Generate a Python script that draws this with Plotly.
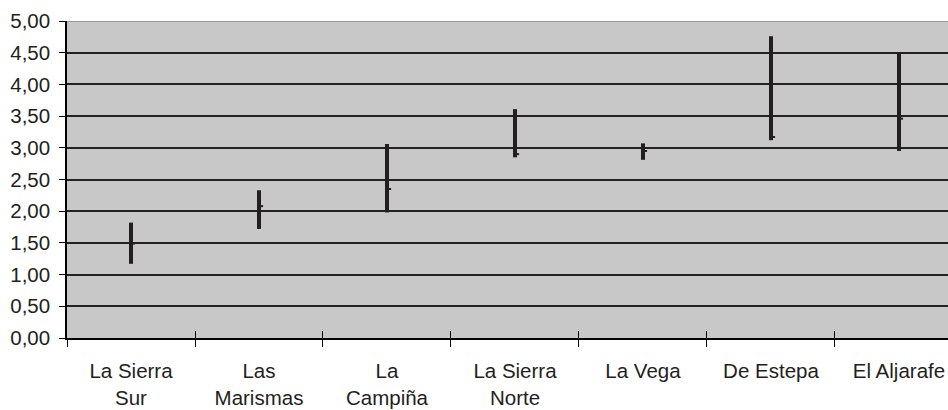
import plotly.graph_objects as go

# Price range per comarca: low, high and closing value
comarcas = ["La Sierra<br>Sur", "Las<br>Marismas", "La<br>Campiña", "La Sierra<br>Norte",
            "La Vega", "De Estepa", "El Aljarafe"]
low = [1.17, 1.72, 1.98, 2.85, 2.81, 3.12, 2.95]
high = [1.82, 2.33, 3.06, 3.61, 3.07, 4.76, 4.51]
close = [1.49, 2.08, 2.35, 2.90, 2.95, 3.17, 3.46]

y_ticks = [i * 0.5 for i in range(11)]

n = len(comarcas)
centers = list(range(n))
bounds = [i - 0.5 for i in range(n + 1)]
dark = "#231f20"
close_off = 0.032  # length of the close tick, in category units

# vertical high-low segments
hx, hy = [], []
for i in centers:
    hx += [i, i, None]
    hy += [low[i], high[i], None]

# small close ticks to the right of each segment
cx, cy = [], []
for i in centers:
    cx += [i, i + close_off, None]
    cy += [close[i], close[i], None]

fig = go.Figure()
fig.add_trace(go.Scatter(x=hx, y=hy, mode="lines", line=dict(color=dark, width=4),
                         hoverinfo="skip", showlegend=False))
fig.add_trace(go.Scatter(x=cx, y=cy, mode="lines", line=dict(color=dark, width=2),
                         hoverinfo="skip", showlegend=False))
fig.add_trace(go.Scatter(x=[], y=[], xaxis="x2", showlegend=False))

x_range = [-0.5, 6.383]

fig.update_layout(
    width=948, height=410,
    margin=dict(l=67, r=0, t=21, b=72),
    paper_bgcolor="white",
    plot_bgcolor="#c8c8c8",
    separators=",.",
    font=dict(family="Liberation Sans, Arial, sans-serif", size=20.5, color=dark),
    xaxis=dict(
        range=x_range, tickmode="array", tickvals=centers, ticktext=comarcas,
        ticks="", showgrid=False, zeroline=False,
        showline=True, linecolor="black", linewidth=1.5,
        ticklabelstandoff=14,
        minor=dict(tickmode="array", tickvals=bounds, ticks="outside", ticklen=7,
                   tickcolor="black", tickwidth=1.2, showgrid=False),
    ),
    xaxis2=dict(
        range=x_range, overlaying="x", anchor="y", side="bottom",
        tickmode="array", tickvals=bounds[1:], ticks="inside", ticklen=7,
        tickcolor="black", tickwidth=1.2,
        showticklabels=False, showgrid=False, zeroline=False, showline=False,
    ),
    yaxis=dict(
        range=[0, 5], tickmode="array", tickvals=y_ticks, tickformat=".2f",
        ticks="outside", ticklen=6, tickcolor="black", tickwidth=1.2,
        showgrid=True, gridcolor="#222222", gridwidth=1.5,
        zeroline=False, showline=True, linecolor="black", linewidth=1.5,
        ticklabelstandoff=5,
    ),
    shapes=[dict(type="line", xref="paper", yref="y", x0=0, x1=1, y0=5, y1=5,
                 line=dict(color="#8a8a8a", width=1.5), layer="above")],
)

fig.write_html("out.html")
